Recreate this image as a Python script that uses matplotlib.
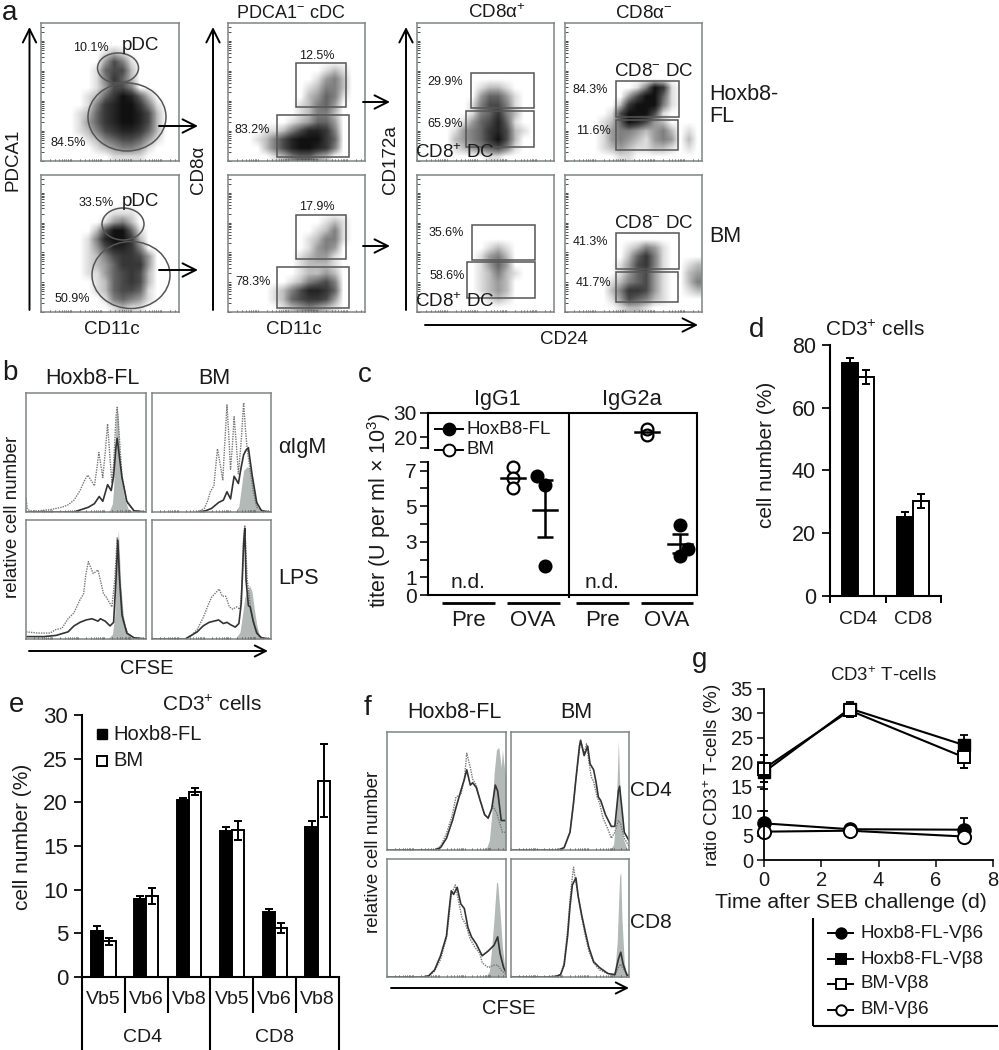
import numpy as np
import matplotlib
matplotlib.use('Agg')
from matplotlib import pyplot as plt
from matplotlib.colors import LinearSegmentedColormap
from matplotlib.patches import Ellipse, Rectangle

plt.rcParams['font.family'] = ['Liberation Sans', 'DejaVu Sans']
plt.rcParams['mathtext.fontset'] = 'custom'
plt.rcParams['mathtext.rm'] = 'Liberation Sans'
plt.rcParams['mathtext.default'] = 'rm'

W, H = 999, 1050

# panel a: dot density, rows top to bottom, 0 empty .. 9 solid
pdca_fl = ["0", "0", "0",
           "0000000121000000", "0000000364100000", "0000001566200000",
           "0000001475200000", "0000001366400000", "0000012579852000",
           "0000014789974100", "0000125789986200", "0000135789986200",
           "0000124678875200", "0000012456653100", "0000001234431000",
           "0000000011110000"]
pdca_bm = ["0", "0", "0", "0",
           "0000000011100000", "0000000134200000", "0000002699510000",
           "0000014899720000", "0000013688740000", "0000012467763000",
           "0000012357773000", "0000011356762000", "0000001256762000",
           "0000001256651000", "0000000145431000", "0000000012110000"]
cd8_fl = ["0", "0", "0", "0", "0",
          "0000000000012100", "0000000000134200", "0000000001244200",
          "0000000002354100", "0000000012453000", "0000000012442000",
          "0000000123553000", "0000112468874000", "0001246899975000",
          "0000246899874000", "0000012455320000"]
cd8_bm = ["0", "0", "0", "0", "0",
          "0000000000012100", "0000000000124100", "0000000001244100",
          "0000000001343000", "0000000012331000", "0000000012221000",
          "0000000012232000", "0000000124564000", "0000012468875000",
          "0000012567763000", "0000001234321000"]
pos_fl = ["0", "0", "0", "0", "0", "0", "0",
          "0000000122100000", "0000000355310000", "0000001466410000",
          "0000001457420000", "0000013568510000", "0000134578621000",
          "0000234579620000", "0000123456410000", "0000000011000000"]
pos_bm = ["0", "0", "0", "0", "0", "0", "0", "0",
          "0000000012100000", "0000000134200000", "0000000135300000",
          "0000000124210000", "0000000123200000", "0000000123200000",
          "0000000012100000", "0"]
neg_fl = ["0", "0", "0", "0", "0", "0", "0",
          "0000000014971000", "0000000369951000", "0000002799941000",
          "0000016999610000", "0000125986320000", "0000134432342010",
          "0000134321343020", "0000123211221010", "0000001100000000"]
neg_bm = ["0", "0", "0", "0", "0", "0", "0", "0",
          "0000000124310000", "0000000257410000", "0000001367410012",
          "0000001356310023", "0000012456310024", "0000024776310012",
          "0000013654210000", "0000001221000000"]

# panel b: histograms, (x, y) in percent of the plot
b_igm_fl_shade = [(68, 0), (70, 2), (72, 7), (73, 20), (74, 50), (75, 80), (76, 88), (77, 78), (78, 50), (80, 25), (82, 12), (85, 3), (88, 0)]
b_igm_fl_dot = [(0, 12), (1, 3), (3, 1), (10, 1), (20, 2), (30, 4), (35, 6), (40, 10), (45, 18), (49, 27), (51.5, 31), (54, 27), (57, 22), (59, 36), (60.7, 50), (62, 42), (64, 29), (66, 50), (68, 74), (70, 45), (71.6, 25), (73, 40), (75, 80), (76, 88), (78, 60), (80, 30), (84, 8), (90, 1), (100, 0)]
b_igm_fl_line = [(0, 0), (40, 0), (46, 2), (52, 4), (57, 7), (61, 13), (64, 9), (66, 16), (68, 23), (71, 18), (73, 30), (75, 55), (76, 62), (78, 45), (80, 29), (84, 9), (90, 1), (100, 0)]
b_igm_bm_shade = [(70, 0), (73, 5), (75, 20), (77, 35), (80, 38), (83, 37), (85, 25), (87, 12), (89, 4), (91, 0)]
b_igm_bm_dot = [(38, 0), (44, 3), (47, 10), (49, 17), (52, 22), (55, 53), (57, 42), (59.5, 27), (61, 55), (63, 90), (64.5, 65), (66, 36), (67.5, 55), (69, 80), (71, 55), (72.6, 32), (75, 60), (77, 92), (78.5, 70), (80, 53), (82.5, 35), (85, 18), (88, 4), (95, 0)]
b_igm_bm_line = [(40, 0), (45, 1), (50, 3), (56, 8), (60, 10), (63, 17), (66, 11), (69, 30), (72.6, 24), (75, 38), (77, 48), (79, 52), (81, 54), (84, 32), (88, 8), (92, 1), (100, 0)]
b_lps_fl_shade = [(68, 0), (72, 4), (74, 20), (75, 60), (77, 92), (79, 45), (81, 20), (84, 6), (88, 1), (90, 0)]
b_lps_fl_dot = [(0, 6), (10, 5), (20, 5), (25, 8), (30, 9), (35, 17), (40, 22), (45, 33), (48, 38), (50, 55), (52, 65), (56, 55), (60, 58), (64.6, 38), (67, 35), (71.6, 27), (74, 50), (76, 85), (78, 50), (81, 15), (85, 4), (90, 1), (100, 0)]
b_lps_fl_line = [(0, 2), (15, 2), (25, 3), (35, 6), (40, 11), (45, 14), (50, 16), (55, 17), (60, 15), (62, 17), (66, 15), (70, 11), (73, 14), (75, 50), (76.5, 83), (78, 50), (80, 20), (84, 5), (90, 1), (100, 0)]
b_lps_bm_shade = [(70, 0), (74, 6), (76, 20), (78, 35), (80, 40), (82, 45), (84, 40), (86, 25), (88, 12), (90, 4), (92, 0)]
b_lps_bm_dot = [(28, 0), (33, 3), (38, 8), (43, 18), (47, 28), (50, 35), (56.4, 42), (59, 36), (62, 36), (65, 27), (68, 25), (71, 27), (74, 25), (76, 50), (77, 85), (78, 95), (80, 50), (83, 25), (86, 12), (90, 2), (95, 0)]
b_lps_bm_line = [(0, 0), (28, 0), (33, 3), (38, 6), (43, 11), (48, 14), (56, 16), (60, 13), (63, 14), (66, 12), (70, 10), (73, 13), (75, 30), (77, 80), (78, 93), (79, 50), (81, 28), (82.5, 27), (85, 15), (88, 5), (92, 1), (100, 0)]

# panel c
c_bm_igg1 = [7.2, 6.6, 6.0]
c_fl_igg1 = [6.68, 6.17, 1.65]
c_bm_igg2a = [23.4, 21.1]
c_fl_igg2a = [3.92, 2.6, 2.18]
c_means = [6.6, 4.8, 22.0, 2.9]
c_fl_igg1_err = [3.25, 6.45]
c_fl_igg2a_err = [2.4, 3.45]

# panel d
d_groups = ['CD4', 'CD8']
d_fl = [74.3, 25.3]
d_bm = [69.7, 30.4]
d_fl_err = [1.5, 1.5]
d_bm_err = [2.2, 2.2]

# panel e
e_groups = ['Vb5', 'Vb6', 'Vb8', 'Vb5', 'Vb6', 'Vb8']
e_fl = [5.3, 8.9, 20.3, 16.7, 7.5, 17.2]
e_bm = [4.1, 9.3, 21.2, 16.8, 5.6, 22.5]
e_fl_err = [0.5, 0.4, 0.15, 0.5, 0.3, 0.7]
e_bm_err = [0.4, 0.9, 0.4, 1.1, 0.55, 4.2]

# panel f
f_cd4_fl_shade = [(83, 0), (86, 8), (88, 30), (90, 65), (92, 85), (94, 87), (96, 70), (97, 85), (98, 75), (100, 60)]
f_cd4_fl_dot = [(40, 0), (45, 3), (50, 14), (55, 30), (58, 45), (62, 47), (65, 60), (67, 82), (70, 70), (72, 60), (75, 55), (78, 43), (82, 30), (85, 27), (89, 37), (92, 32), (95, 22), (97, 15), (100, 15)]
f_cd4_fl_line = [(0, 0), (40, 0), (45, 2), (50, 10), (55, 25), (58, 36), (62, 50), (65, 60), (67, 68), (70, 55), (72, 57), (75, 53), (78, 43), (82, 30), (85, 27), (88, 35), (91, 55), (93, 50), (96, 25), (98, 25), (100, 25)]
f_cd4_bm_shade = [(84, 0), (87, 5), (89, 30), (91, 93), (92, 60), (93, 40), (95, 10), (98, 2), (100, 0)]
f_cd4_bm_dot = [(40, 0), (45, 2), (50, 15), (53, 40), (55, 60), (58, 85), (59, 92), (62, 82), (64, 90), (66, 75), (68, 62), (70, 58), (73, 45), (75, 40), (78, 27), (82, 18), (85, 10), (88, 15), (91, 25), (93, 22), (96, 10), (100, 3)]
f_cd4_bm_line = [(0, 0), (40, 0), (45, 2), (50, 15), (53, 40), (55, 60), (58, 88), (59, 93), (62, 80), (65, 88), (67, 73), (70, 68), (72, 58), (74, 45), (76, 42), (80, 30), (85, 20), (88, 20), (91, 50), (92, 54), (94, 35), (96, 15), (100, 8)]
f_cd8_fl_shade = [(83, 0), (86, 5), (88, 25), (90, 50), (92, 80), (93, 80), (95, 55), (97, 25), (99, 8), (100, 4)]
f_cd8_fl_dot = [(30, 0), (35, 1), (40, 5), (45, 15), (50, 33), (52, 50), (54, 70), (57.4, 78), (60, 65), (63, 50), (66, 45), (70, 32), (74, 25), (78, 20), (80, 12), (85, 8), (90, 10), (93, 10), (96, 6), (100, 2)]
f_cd8_fl_line = [(0, 0), (30, 0), (35, 1), (40, 6), (45, 18), (50, 35), (52, 55), (54, 73), (56, 70), (59, 76), (62, 62), (65, 58), (68, 42), (71, 34), (75, 28), (80, 18), (85, 22), (90, 27), (93, 34), (95, 20), (98, 8), (100, 4)]
f_cd8_bm_shade = [(86, 0), (88, 5), (90, 30), (92, 85), (93, 89), (94, 50), (96, 12), (98, 2), (100, 0)]
f_cd8_bm_dot = [(30, 0), (38, 0.5), (42, 2), (45, 12), (48, 40), (50, 65), (52, 85), (53, 93), (55, 80), (57, 68), (60, 50), (63, 35), (66, 22), (70, 12), (75, 6), (82, 3), (88, 1), (91, 8), (93, 11), (95, 7), (100, 1)]
f_cd8_bm_line = [(0, 0), (30, 0), (38, 0.5), (42, 2), (45, 10), (48, 35), (50, 60), (52, 78), (55, 84), (57, 68), (60, 52), (63, 38), (66, 25), (70, 13), (75, 8), (82, 3), (88, 2), (91, 15), (93, 21), (95, 11), (98, 2), (100, 1)]

# panel g
g_days = [0, 3, 7]
g_fl_v6 = [7.5, 6.3, 6.2]
g_fl_v8 = [18.0, 31.0, 23.5]
g_bm_v8 = [18.7, 30.6, 21.0]
g_bm_v6 = [5.8, 6.0, 4.8]
g_fl_v6_err = [2.5, 0.4, 2.3]
g_fl_v8_err = [3.4, 1.3, 2.1]
g_bm_v8_err = [2.8, 1.3, 2.2]
g_bm_v6_err = [0.4, 0.4, 0.3]

INK = '#1a1a1a'
FRAME = '#7f8583'
GATE = '#555555'
SHADE = '#b3b9b7'

fig = plt.figure(figsize=(W / 100, H / 100), dpi=100)
density_cmap = LinearSegmentedColormap.from_list('dots', ['#ffffff', '#9a9a9a', '#4a4a4a', '#111111'])


def add_ax(left, top, right, bottom):
    return fig.add_axes([left / W, 1 - bottom / H, (right - left) / W, (bottom - top) / H])


def log_ticks(scale=1.0):
    # instrument style log ticks along a frame
    return [scale * (d + np.log10(m)) / 4.6 for d in range(5) for m in range(1, 10) if d + np.log10(m) < 4.6]


def style_frame(ax, left_ticks, scale):
    for s in ax.spines.values():
        s.set_color(FRAME)
        s.set_linewidth(1.1)
    ax.set_xticks(log_ticks(scale))
    ax.set_xticklabels([])
    ax.set_yticks(log_ticks(scale) if left_ticks else [])
    ax.set_yticklabels([])
    ax.tick_params(direction='in', length=1.8, width=0.6, color='#333333')


def flow_panel(rows, box):
    ax = add_ax(*box)
    grid = np.array([[int(c) for c in r.ljust(16, '0')] for r in rows])
    ax.imshow(grid, extent=[0, 1, 0, 1], aspect='auto', cmap=density_cmap, vmin=0, vmax=9,
              interpolation='bilinear')
    ax.set_xlim(0, 1)
    ax.set_ylim(0, 1)
    style_frame(ax, True, 1.0)


def hist_panel(box, shade, dot, line):
    ax = add_ax(*box)
    ax.fill_between(*zip(*shade), 0, color=SHADE, lw=0)
    ax.plot(*zip(*dot), color='#777777', lw=1.0, ls=(0, (1, 0.8)))
    ax.plot(*zip(*line), color='#333333', lw=1.2)
    ax.set_xlim(0, 100)
    ax.set_ylim(0, 100)
    style_frame(ax, False, 100.0)


# panel a plots
flow_panel(pdca_fl, (41, 23, 179, 161))
flow_panel(pdca_bm, (41, 175, 179, 312))
flow_panel(cd8_fl, (228, 23, 365, 161))
flow_panel(cd8_bm, (228, 175, 365, 312))
flow_panel(pos_fl, (417, 23, 554, 161))
flow_panel(pos_bm, (417, 175, 554, 312))
flow_panel(neg_fl, (565, 23, 702, 161))
flow_panel(neg_bm, (565, 175, 702, 312))

# panel b plots
hist_panel((26, 393, 146, 512), b_igm_fl_shade, b_igm_fl_dot, b_igm_fl_line)
hist_panel((152, 393, 271, 512), b_igm_bm_shade, b_igm_bm_dot, b_igm_bm_line)
hist_panel((26, 520, 146, 639), b_lps_fl_shade, b_lps_fl_dot, b_lps_fl_line)
hist_panel((152, 520, 271, 639), b_lps_bm_shade, b_lps_bm_dot, b_lps_bm_line)

# panel f plots
hist_panel((387, 732, 506, 850), f_cd4_fl_shade, f_cd4_fl_dot, f_cd4_fl_line)
hist_panel((511, 732, 629, 850), f_cd4_bm_shade, f_cd4_bm_dot, f_cd4_bm_line)
hist_panel((387, 859, 506, 977), f_cd8_fl_shade, f_cd8_fl_dot, f_cd8_fl_line)
hist_panel((511, 859, 629, 977), f_cd8_bm_shade, f_cd8_bm_dot, f_cd8_bm_line)

# panel c, broken y axis
c_x_bm1, c_x_fl1, c_x_bm2, c_x_fl2 = 1.285, 1.775, 3.318, 3.824
c_top = add_ax(428, 413, 697, 447.7)
c_low = add_ax(428, 461.7, 697, 595.3)
for ax in (c_top, c_low):
    ax.patch.set_alpha(0)
    ax.set_xlim(0, 4.08)
    ax.set_xticks([])
    ax.spines['right'].set_visible(False)
    ax.spines['left'].set_linewidth(1.5)
    ax.tick_params(axis='y', length=6, width=1.3, labelsize=15, pad=2, colors=INK)
c_top.spines['bottom'].set_visible(False)
c_top.spines['top'].set_linewidth(1.5)
c_low.spines['top'].set_visible(False)
c_low.spines['bottom'].set_linewidth(1.5)
c_top.set_ylim(15.7, 30)
c_low.set_ylim(0, 7.5)
c_top.set_yticks([15.7, 20, 30], ['', '20', '30'])
c_low.set_yticks([0, 1, 2, 3, 4, 5, 6, 7, 7.5], ['0', '1', '', '3', '', '5', '', '7', ''])
mk = dict(ls='none', ms=8.5, mew=1.6, clip_on=False)
c_low.plot([c_x_bm1] * 3, c_bm_igg1, 'o', mfc='white', mec='k', **mk)
c_low.plot([1.654, c_x_fl1, c_x_fl1], c_fl_igg1, 'o', color='k', **mk)
c_top.plot([c_x_bm2] * 2, c_bm_igg2a, 'o', mfc='none', mec='k', **mk)
c_low.plot([c_x_fl2, 3.94, c_x_fl2], c_fl_igg2a, 'o', color='k', **mk)
for ax, xc, m in [(c_low, c_x_bm1, c_means[0]), (c_low, c_x_fl1, c_means[1]),
                  (c_top, c_x_bm2, c_means[2]), (c_low, c_x_fl2, c_means[3])]:
    ax.plot([xc - 0.18, xc + 0.18], [m, m], color='k', lw=1.8)
c_low.errorbar([c_x_fl1], [c_means[1]],
               yerr=[[c_means[1] - c_fl_igg1_err[0]], [c_fl_igg1_err[1] - c_means[1]]],
               fmt='none', ecolor='k', elinewidth=1.8, capsize=6, capthick=1.8)
c_low.errorbar([c_x_fl2], [c_means[3]],
               yerr=[[c_means[3] - c_fl_igg2a_err[0]], [c_fl_igg2a_err[1] - c_means[3]]],
               fmt='none', ecolor='k', elinewidth=1.8, capsize=6, capthick=1.8)

# panel d
d_ax = add_ax(830, 345, 941, 596)
d_x = np.arange(len(d_groups))
bar_style = dict(edgecolor='k', linewidth=1.4)
d_ax.bar(d_x - 0.145, d_fl, 0.29, color='k', **bar_style)
d_ax.bar(d_x + 0.145, d_bm, 0.29, color='white', **bar_style)
err_style = dict(fmt='none', ecolor='k', elinewidth=1.4, capsize=3.2, capthick=1.4)
d_ax.errorbar(d_x - 0.145, d_fl, yerr=d_fl_err, **err_style)
d_ax.errorbar(d_x + 0.145, d_bm, yerr=d_bm_err, **err_style)
d_ax.set_xlim(-0.5, 1.5)
d_ax.set_ylim(0, 80)
d_ax.set_yticks([0, 20, 40, 60, 80])
d_ax.set_xticks([-0.5, 0.5, 1.5], ['', '', ''])
d_ax.tick_params(axis='y', labelsize=15.5, length=6, width=1.4, pad=4, colors=INK)
d_ax.tick_params(axis='x', length=5, width=1.4)
d_ax.spines[['top', 'right']].set_visible(False)
d_ax.spines[['left', 'bottom']].set_linewidth(1.5)

# panel e
e_ax = add_ax(82, 715, 339, 977)
e_x = np.arange(len(e_groups))
e_ax.bar(e_x - 0.142, e_fl, 0.284, color='k', **bar_style)
e_ax.bar(e_x + 0.142, e_bm, 0.284, color='white', **bar_style)
e_ax.errorbar(e_x - 0.142, e_fl, yerr=e_fl_err, **err_style)
e_ax.errorbar(e_x + 0.142, e_bm, yerr=e_bm_err, **err_style)
e_ax.set_xlim(-0.5, 5.5)
e_ax.set_ylim(0, 30)
e_ax.set_yticks([0, 5, 10, 15, 20, 25, 30])
e_ax.set_xticks(e_x, e_groups)
e_ax.tick_params(axis='x', length=0, labelsize=14, pad=10, colors=INK)
e_ax.tick_params(axis='y', labelsize=16, length=6, width=1.4, pad=4, colors=INK)
e_ax.spines[['top', 'right']].set_visible(False)
e_ax.spines[['left', 'bottom']].set_linewidth(1.5)

# panel g
g_ax = add_ax(764, 689, 993, 860)
line_style = dict(color='k', lw=1.5, ecolor='k', elinewidth=1.3, capsize=3, capthick=1.3, clip_on=False)
g_ax.errorbar(g_days, g_fl_v8, yerr=g_fl_v8_err, fmt='-s', ms=9, mfc='k', mec='k', **line_style)
g_ax.errorbar(g_days, g_bm_v8, yerr=g_bm_v8_err, fmt='-s', ms=9, mfc='white', mec='k', mew=1.4, **line_style)
g_ax.errorbar(g_days, g_fl_v6, yerr=g_fl_v6_err, fmt='-o', ms=9.5, mfc='k', mec='k', **line_style)
g_ax.errorbar(g_days, g_bm_v6, yerr=g_bm_v6_err, fmt='-o', ms=9.5, mfc='white', mec='k', mew=1.4, **line_style)
g_ax.set_xlim(0, 8)
g_ax.set_ylim(0, 35)
g_ax.set_xticks([0, 2, 4, 6, 8])
g_ax.set_yticks([0, 5, 10, 15, 20, 25, 30, 35])
g_ax.tick_params(axis='both', labelsize=14.5, length=5, width=1.2, pad=3, colors=INK)
g_ax.spines[['top', 'right']].set_visible(False)
g_ax.spines[['left', 'bottom']].set_linewidth(1.3)

# everything annotated sits on one overlay in picture pixels
ov = fig.add_axes([0, 0, 1, 1], zorder=10)
ov.set_xlim(0, W)
ov.set_ylim(H, 0)
ov.axis('off')


def label(x, y, s, size=13.5, rot=0, ha='center', va='center'):
    ov.text(x, y, s, fontsize=size, rotation=rot, ha=ha, va=va, color=INK)


def arrow(x0, y0, x1, y1, head=24):
    ov.annotate('', xy=(x1, y1), xytext=(x0, y0),
                arrowprops=dict(arrowstyle='->', color='k', lw=1.4, mutation_scale=head,
                                shrinkA=0, shrinkB=0))


def gate(x0, y0, x1, y1):
    ov.add_patch(Rectangle((x0, y0), x1 - x0, y1 - y0, fill=False, ec=GATE, lw=1.1))


def oval(x, y, w, h):
    ov.add_patch(Ellipse((x, y), w, h, fill=False, ec=GATE, lw=1.1))


def rule(x0, y0, x1, y1, lw=1.5):
    ov.plot([x0, x1], [y0, y1], color='k', lw=lw, solid_capstyle='butt')


def key(x0, x1, y, marker, mfc, ms=7.5):
    ov.plot([x0, (x0 + x1) / 2, x1], [y, y, y], color='k', lw=1.4, marker=marker, markevery=[1],
            ms=ms, mfc=mfc, mec='k', mew=1.4)


# panel letters
for x, y, s in [(10, 20, 'a'), (10, 380, 'b'), (365, 382, 'c'), (757, 337, 'd'),
                (17, 712, 'e'), (368, 715, 'f'), (700, 667, 'g')]:
    ov.text(x, y, s, fontsize=20, ha='center', va='baseline', color=INK)

# panel a gates
oval(118, 68, 41, 30)
oval(127, 117, 78, 68)
oval(123, 224, 42, 32)
oval(131, 275, 78, 67)
gate(296, 63, 346, 107)
gate(277, 115, 349, 157)
gate(296, 215, 346, 259)
gate(277, 267, 349, 308)
gate(471, 73, 534, 108)
gate(466, 111, 534, 147)
gate(472, 225, 535, 260)
gate(467, 262, 535, 298)
gate(616, 81, 679, 117)
gate(616, 120, 678, 150)
gate(616, 233, 679, 269)
gate(616, 272, 678, 302)

# panel a arrows
arrow(29.5, 310, 29.5, 27)
arrow(213, 310, 213, 27)
arrow(406, 310, 406, 27)
arrow(425, 325, 698, 325)
arrow(159, 126, 198, 126)
arrow(159, 270, 198, 270)
arrow(363, 102, 390, 102)
arrow(363, 246, 390, 246)

# panel a text
for x, y, s in [(91, 48, '10.1%'), (68, 143, '84.5%'), (96, 203, '33.5%'), (72, 299, '50.9%'),
                (317, 56, '12.5%'), (252, 130, '83.2%'), (317, 207, '17.9%'), (253, 282, '78.3%'),
                (445, 82, '29.9%'), (445, 124, '65.9%'), (446, 233, '35.6%'), (447, 276, '58.6%'),
                (590, 90, '84.3%'), (593, 131, '11.6%'), (590, 242, '41.3%'), (593, 283, '41.7%')]:
    label(x, y, s, size=9)
label(140, 46, 'pDC')
label(140, 201, 'pDC')
label(112, 330, 'CD11c')
label(294, 330, 'CD11c')
label(13, 160, 'PDCA1', rot=90)
label(199, 170, 'CD8α', rot=90)
label(391, 160, 'CD172a', rot=90)
label(291, 13, 'PDCA1$^{-}$ cDC', size=13)
label(497, 13, 'CD8α$^{+}$')
label(644, 13, 'CD8α$^{-}$')
label(455, 153, 'CD8$^{+}$ DC')
label(455, 302, 'CD8$^{+}$ DC')
label(654, 71, 'CD8$^{-}$ DC')
label(654, 223, 'CD8$^{-}$ DC')
label(709, 95, 'Hoxb8-', size=15.5, ha='left')
label(709, 117, 'FL', size=15.5, ha='left')
label(709, 237, 'BM', size=15.5, ha='left')
label(564, 340, 'CD24')

# panel b text
label(92, 378, 'Hoxb8-FL', size=15.5)
label(214, 378, 'BM', size=15.5)
label(278, 448, 'αIgM', size=15.5, ha='left')
label(278, 578, 'LPS', size=15.5, ha='left')
label(13, 517, 'relative cell number', rot=90)
arrow(29, 651, 268, 651, head=20)
label(147, 669, 'CFSE', size=14.5)

# panel c extras
rule(697, 413, 697, 596)
rule(569, 413, 569, 598)
rule(442, 603, 495, 603, 2)
rule(507, 603, 560, 603, 2)
rule(576, 603, 629, 603, 2)
rule(641, 603, 693, 603, 2)
for x, s in [(468, 'Pre'), (533, 'OVA'), (602, 'Pre'), (667, 'OVA')]:
    label(x, 620, s, size=16)
label(468, 582, 'n.d.', size=15)
label(602, 582, 'n.d.', size=15)
label(497, 400, 'IgG1', size=15.5)
label(632, 400, 'IgG2a', size=15.8)
label(379, 510, 'titer (U per ml × 10$^{3}$)', size=15.5, rot=90)
key(435, 463, 429, 'o', 'k', ms=8.5)
key(435, 463, 450, 'o', 'white', ms=8.5)
label(466, 429, 'HoxB8-FL', size=13.5, ha='left')
label(466, 450, 'BM', size=13.5, ha='left')

# panel d text
label(875, 330, 'CD3$^{+}$ cells', size=15)
label(766, 455, 'cell number (%)', size=15, rot=90)
for x, s in zip([858, 913], d_groups):
    label(x, 619, s, size=13.8)

# panel e text
label(212, 705, 'CD3$^{+}$ cells', size=15)
label(23, 837, 'cell number (%)', size=15, rot=90)
ov.plot([102], [734], 's', color='k', ms=7.5)
ov.plot([102], [761], 's', mfc='white', mec='k', mew=1.4, ms=7.5)
label(113, 734, 'Hoxb8-FL', size=14.5, ha='left')
label(113, 761, 'BM', size=14.5, ha='left')
for i in range(7):
    rule(82 + i * 42.83, 977, 82 + i * 42.83, 1050 if i in (0, 3, 6) else 1013)
label(143, 1038, 'CD4', size=14)
label(275, 1038, 'CD8', size=14)

# panel f text
label(454, 713, 'Hoxb8-FL', size=15.5)
label(576, 713, 'BM', size=15.5)
label(630, 791, 'CD4', size=15, ha='left')
label(630, 923, 'CD8', size=15, ha='left')
label(374, 852, 'relative cell number', rot=90)
arrow(391, 988, 629, 988, head=20)
label(509, 1009, 'CFSE', size=14.5)

# panel g text
label(883, 676, 'CD3$^{+}$ T-cells', size=13.4)
label(713, 775, 'ratio CD3$^{+}$ T-cells (%)', size=13.5, rot=90)
label(851, 902, 'Time after SEB challenge (d)', size=15.3)
rule(813, 918, 813, 1026)
rule(813, 1026, 998, 1026)
key(828, 853, 933, 'o', 'k')
key(828, 853, 959, 's', 'k')
key(828, 853, 984, 's', 'white')
key(828, 853, 1010, 'o', 'white')
for y, s in [(933, 'Hoxb8-FL-Vβ6'), (959, 'Hoxb8-FL-Vβ8'), (984, 'BM-Vβ8'), (1010, 'BM-Vβ6')]:
    label(860, y, s, size=13.6, ha='left')

fig.savefig('out.png', dpi=100, facecolor='white')
